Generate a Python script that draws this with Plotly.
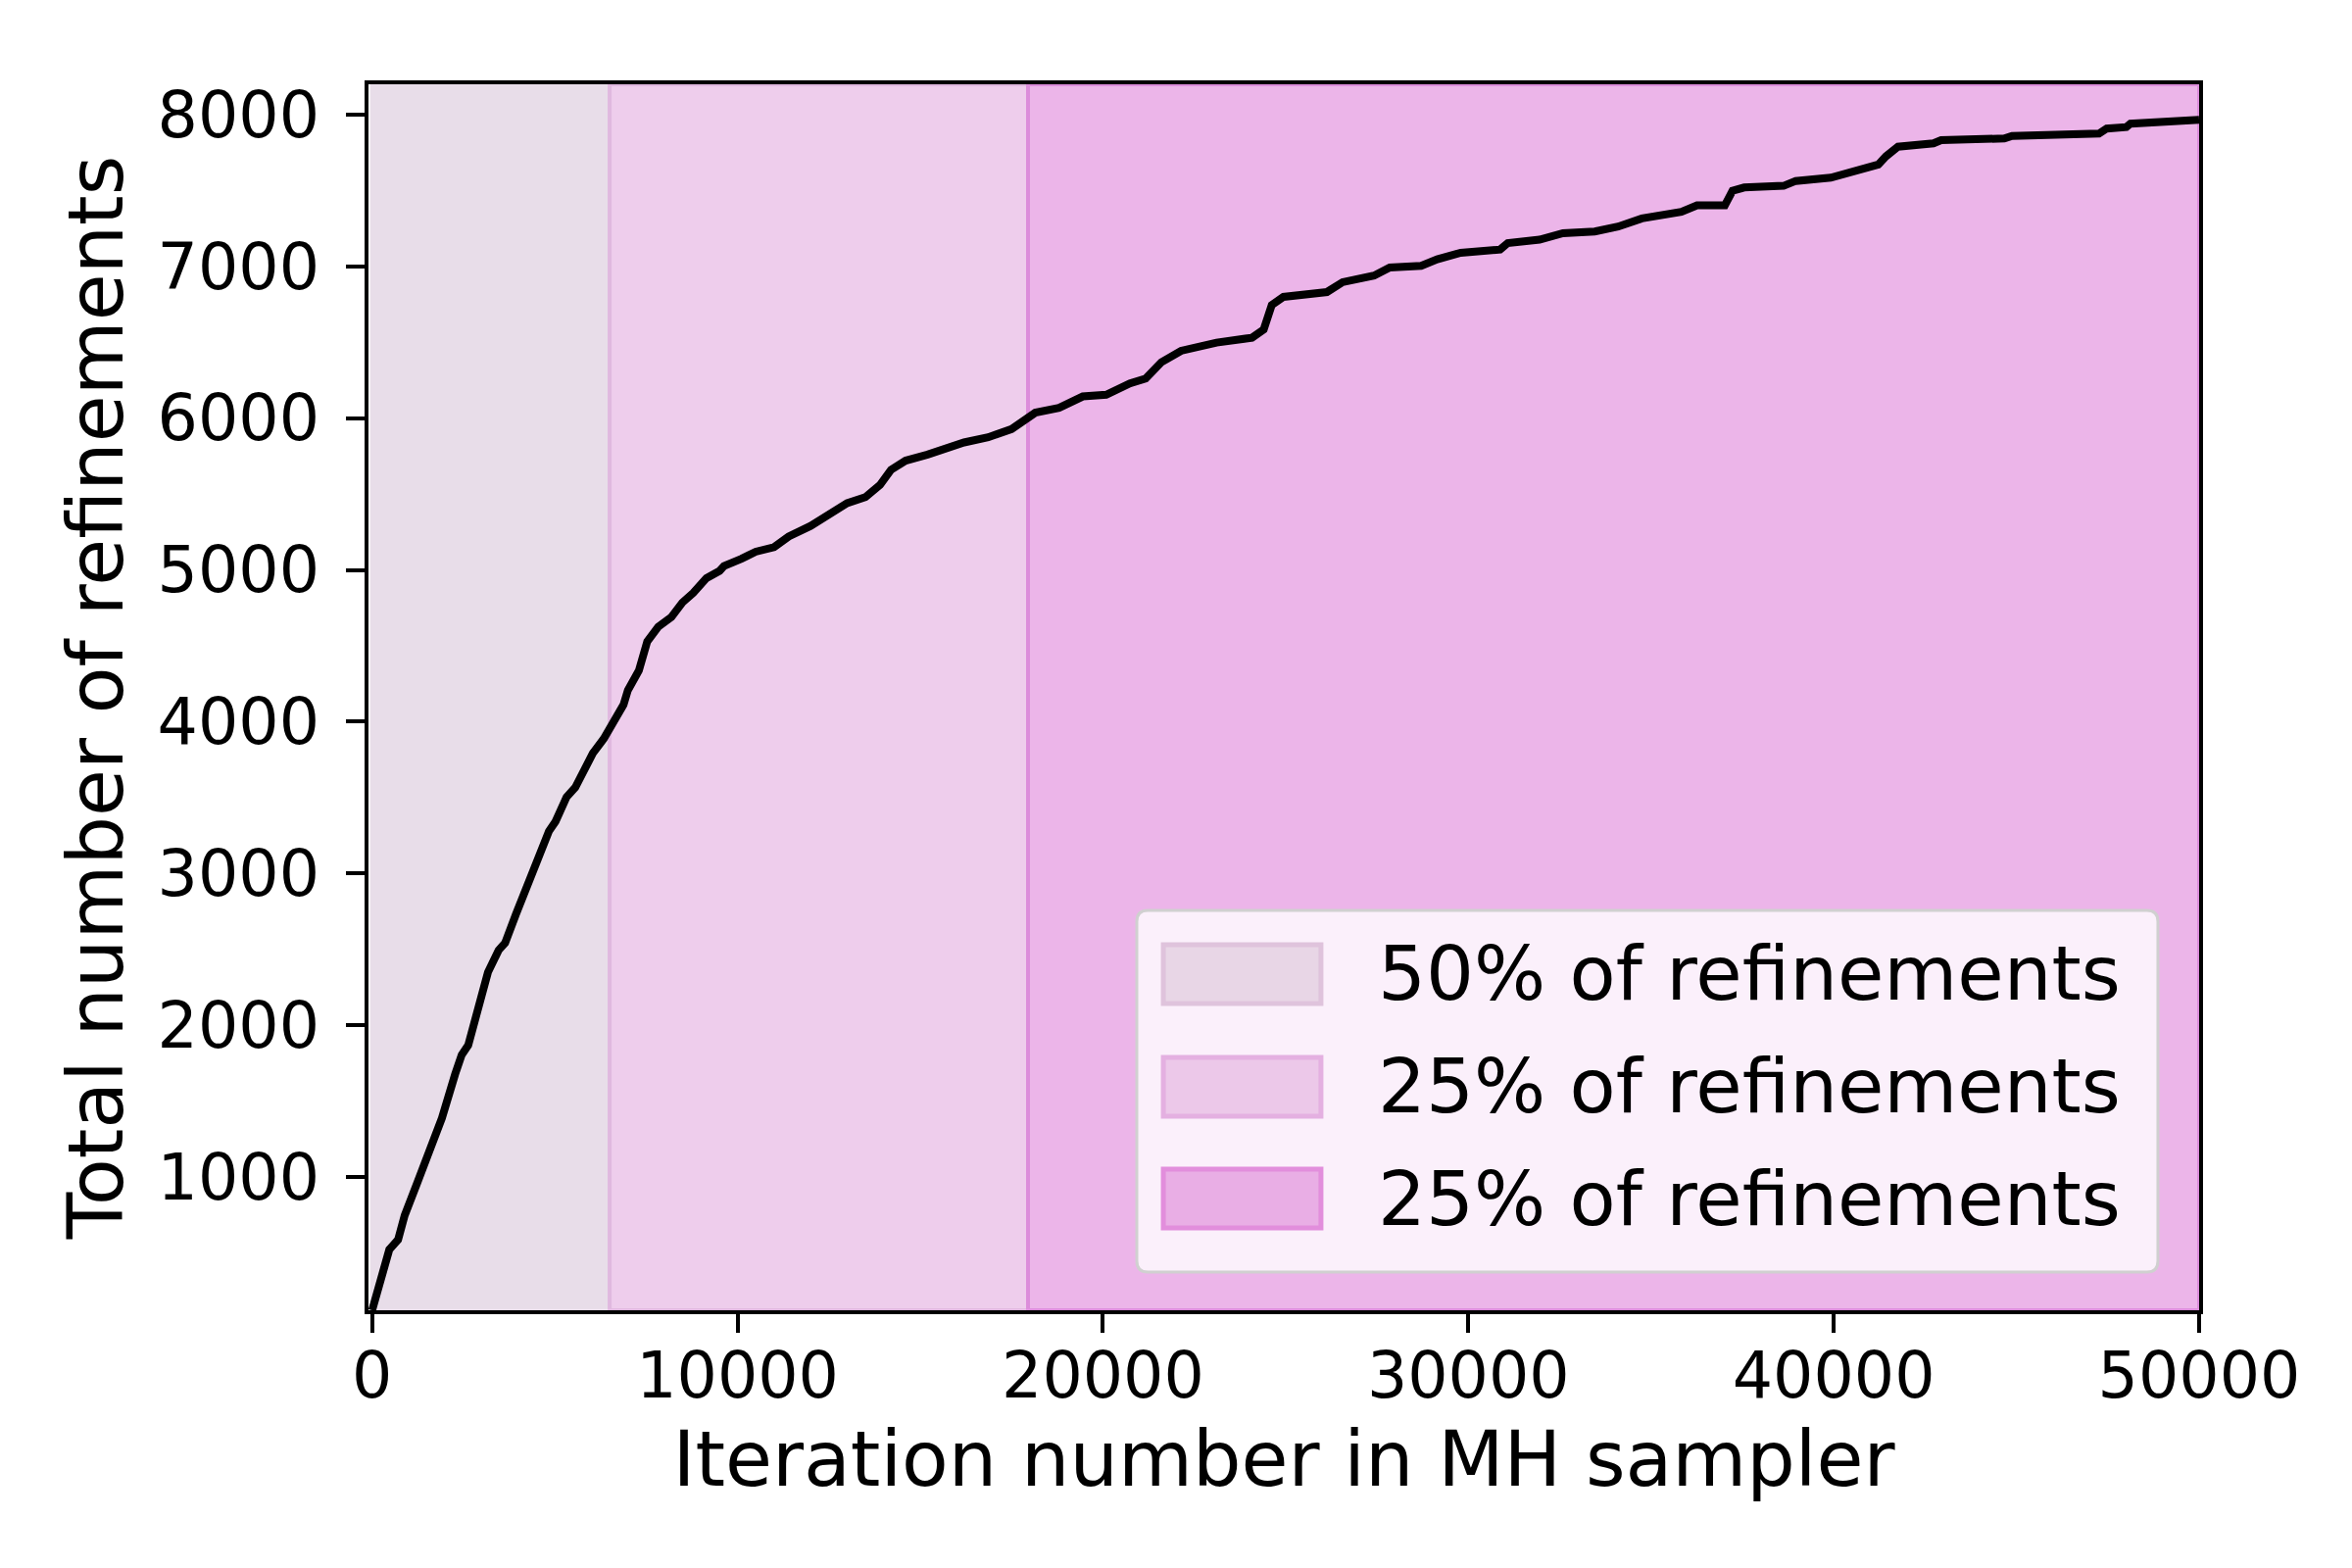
"""
Cumulative refinements over the MH sampler run, shaded by refinement share.
"""
import plotly.graph_objects as go

iterations = [
    0, 470, 710, 890, 1250, 1490, 1910, 2270, 2450, 2630, 2860, 3170,
    3460, 3640, 3940, 4300, 4540, 4840, 5020, 5320, 5560, 5860, 6040,
    6340, 6640, 6880, 7000, 7300, 7530, 7830, 8190, 8490, 8790, 9150,
    9510, 9630, 10110, 10500, 11000, 11400, 12000, 12600, 13000, 13500,
    13900, 14200, 14600, 15200, 15700, 16200, 16860, 17500, 18150, 18800,
    19450, 20090, 20740, 21170, 21600, 22140, 23110, 24080, 24400, 24620,
    24940, 26130, 26560, 27420, 27850, 28710, 29150, 29790, 30870, 31080,
    31950, 32590, 33460, 34100, 34750, 35400, 35830, 36260, 37020, 37230,
    37550, 38630, 38960, 39920, 40360, 40790, 41220, 41430, 41760, 42730,
    42940, 44670, 44880, 47260, 47470, 48010, 48120, 50000,
]
refinements = [
    122, 522, 587, 747, 971, 1131, 1388, 1676, 1804, 1869, 2093, 2349,
    2494, 2542, 2734, 2958, 3103, 3279, 3343, 3503, 3567, 3696, 3792,
    3888, 4016, 4112, 4208, 4337, 4529, 4625, 4689, 4785, 4849, 4946,
    4994, 5026, 5074, 5120, 5150, 5220, 5290, 5380, 5440, 5480,
    5560, 5660, 5720, 5760, 5800, 5840, 5874, 5928, 6036, 6068,
    6143, 6154, 6229, 6261, 6369, 6444, 6498, 6530, 6584, 6746,
    6799, 6831, 6896, 6939, 6993, 7004, 7047, 7090, 7111, 7154,
    7176, 7219, 7230, 7262, 7316, 7348, 7359, 7402, 7402, 7498,
    7520, 7531, 7563, 7585, 7617, 7653, 7671, 7725, 7789, 7811,
    7832, 7843, 7860, 7875, 7908, 7918, 7940, 7966,
]

band_edges = [0, 6500, 17950, 50000]
band_labels = ["50% of refinements", "25% of refinements", "25% of refinements"]
band_fill = ["#e8dde9", "#eecdec", "#ecb5e9"]
# each span's edge shows up on its left boundary
band_line = ["#e8dde9", "#e0b8df", "#dc8ddb"]
swatch_fill = ["#e8d6e6", "#ecc8e9", "#e9aee5"]
swatch_line = ["#dfc3dc", "#e4b0e1", "#e28edc"]

FONT = "DejaVu Sans"

fig = go.Figure()

# shaded regions behind the curve
for i in range(len(band_labels)):
    fig.add_vrect(
        x0=band_edges[i],
        x1=band_edges[i + 1],
        fillcolor=band_fill[i],
        line=dict(color=band_line[i], width=4),
        layer="below",
    )

fig.add_trace(
    go.Scatter(
        x=iterations,
        y=refinements,
        mode="lines",
        line=dict(color="black", width=8),
        showlegend=False,
        hoverinfo="skip",
    )
)


def rounded_box(x0, x1, y0, y1, rx=0.006, ry=0.009):
    return (
        f"M {x0 + rx},{y0} L {x1 - rx},{y0} Q {x1},{y0} {x1},{y0 + ry} "
        f"L {x1},{y1 - ry} Q {x1},{y1} {x1 - rx},{y1} "
        f"L {x0 + rx},{y1} Q {x0},{y1} {x0},{y1 - ry} "
        f"L {x0},{y0 + ry} Q {x0},{y0} {x0 + rx},{y0} Z"
    )


# legend drawn by hand so the swatches scale with the large text
fig.add_shape(
    type="path", xref="paper", yref="paper",
    path=rounded_box(0.4197, 0.9775, 0.0312, 0.3261),
    fillcolor="rgba(255,255,255,0.8)",
    line=dict(color="#d0d0d0", width=3),
    layer="above",
)
row_y = [0.2742, 0.1823, 0.0911]
for i, label in enumerate(band_labels):
    fig.add_shape(
        type="rect", xref="paper", yref="paper",
        x0=0.4342, x1=0.5203, y0=row_y[i] - 0.024, y1=row_y[i] + 0.024,
        fillcolor=swatch_fill[i],
        line=dict(color=swatch_line[i], width=5),
        layer="above",
    )
    fig.add_annotation(
        x=0.5505, y=row_y[i], xref="paper", yref="paper",
        text=label, showarrow=False,
        xanchor="left", yanchor="middle",
        font=dict(family=FONT, size=77, color="black"),
    )

axis_style = dict(
    showline=True,
    linecolor="black",
    linewidth=4,
    mirror=True,
    ticks="outside",
    ticklen=19,
    tickwidth=4,
    tickcolor="black",
    showgrid=False,
    zeroline=False,
    tickfont=dict(family=FONT, size=65, color="black"),
)

fig.update_xaxes(
    range=[-100, 50000],
    tickvals=[0, 10000, 20000, 30000, 40000, 50000],
    ticktext=["0", "10000", "20000", "30000", "40000", "50000"],
    ticklabelstandoff=-12,
    title=dict(text="Iteration number in MH sampler", font=dict(family=FONT, size=78), standoff=22),
    **axis_style,
)
fig.update_yaxes(
    range=[122, 8200],
    tickvals=[1000, 2000, 3000, 4000, 5000, 6000, 7000, 8000],
    ticktext=["1000", "2000", "3000", "4000", "5000", "6000", "7000", "8000"],
    ticklabelstandoff=14,
    title=dict(text="Total number of refinements", font=dict(family=FONT, size=78), standoff=10),
    **axis_style,
)

fig.update_layout(
    width=2400,
    height=1600,
    margin=dict(l=368, r=164, t=78, b=271),
    paper_bgcolor="white",
    plot_bgcolor="white",
    font=dict(family=FONT, color="black"),
)

fig.write_html("out.html")
